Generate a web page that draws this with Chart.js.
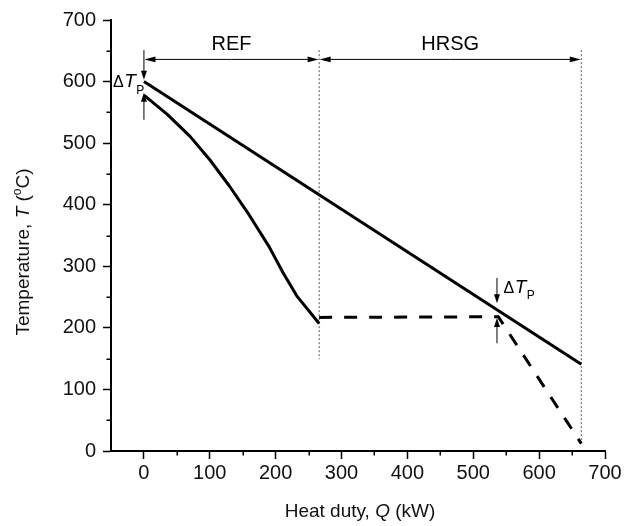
<!DOCTYPE html>
<html>
<head>
<meta charset="utf-8">
<title>T-Q diagram</title>
<script src="https://cdn.jsdelivr.net/npm/chart.js@4.4.1/dist/chart.umd.min.js"></script>
<style>
  html, body { margin: 0; padding: 0; background: #fff; }
  canvas { display: block; }
</style>
</head>
<body>
<canvas id="tq" width="632" height="526"></canvas>
<script>
const FONT = '"Liberation Sans", Arial, Helvetica, sans-serif';

// hot flue gas, straight through REF and HRSG
const hotQ = [0, 664];
const hotT = [600, 141];
// cold side inside the reformer
const refQ = [0, 35, 70, 100, 130, 160, 190, 211, 232, 266];
const refT = [578, 547, 511, 473, 430, 383, 332, 290, 252, 207];
// cold side in the HRSG (dashed)
const hrsgQ = [266, 538, 664];
const hrsgT = [217, 218, 12];

// section spans along the top
const sectionQ = [0, 266, 664];
const sectionNames = ["REF", "HRSG"];
const spanArrowT = 636;
const sectionLabelT = 660;
const dividerTopT = 651;
const dividerBottomT = [149, 14]; // for sectionQ[1], sectionQ[2]

// pinch markers: [tail, tip] in degC for the down and up arrows
const pinchQ = [0, 536];
const pinchDown = [[651, 603], [281, 240]];
const pinchUp = [[538, 582], [175, 216]];
const pinchLabelQ = [-47, 546];
const pinchLabelT = [591, 257];

const xTickValues = [0, 50, 100, 150, 200, 250, 300, 350, 400, 450, 500, 550, 600, 650, 700];
const yTickValues = [0, 50, 100, 150, 200, 250, 300, 350, 400, 450, 500, 550, 600, 650, 700];

function pts(xs, ys) {
  return xs.map((x, i) => ({ x, y: ys[i] }));
}

function arrow(ctx, x1, y1, x2, y2, len, half) {
  const a = Math.atan2(y2 - y1, x2 - x1);
  ctx.beginPath();
  ctx.moveTo(x1, y1);
  ctx.lineTo(x2 - Math.cos(a) * len * 0.6, y2 - Math.sin(a) * len * 0.6);
  ctx.stroke();
  ctx.beginPath();
  ctx.moveTo(x2, y2);
  ctx.lineTo(x2 - Math.cos(a) * len - Math.sin(a) * half, y2 - Math.sin(a) * len + Math.cos(a) * half);
  ctx.lineTo(x2 - Math.cos(a) * len + Math.sin(a) * half, y2 - Math.sin(a) * len - Math.cos(a) * half);
  ctx.closePath();
  ctx.fill();
}

// draws runs of text with italic / sub / sup parts, centred on (cx, cy)
function richText(ctx, parts, cx, cy) {
  let w = 0;
  parts.forEach((p) => {
    ctx.font = `${p.italic ? "italic " : ""}${p.size}px ${FONT}`;
    p.w = ctx.measureText(p.t).width;
    w += p.w;
  });
  let x = cx - w / 2;
  ctx.textAlign = "left";
  ctx.textBaseline = "middle";
  parts.forEach((p) => {
    ctx.font = `${p.italic ? "italic " : ""}${p.size}px ${FONT}`;
    ctx.fillText(p.t, x, cy + (p.dy || 0));
    x += p.w;
  });
}

function deltaTp(ctx, x, y) {
  ctx.textAlign = "left";
  ctx.textBaseline = "alphabetic";
  ctx.font = `16px ${FONT}`;
  ctx.fillText("\u0394", x, y);
  x += ctx.measureText("\u0394").width + 0.5;
  ctx.font = `italic 19px ${FONT}`;
  ctx.fillText("T", x, y);
  x += ctx.measureText("T").width + 0.5;
  ctx.font = `12px ${FONT}`;
  ctx.fillText("P", x, y + 6.5);
}

const annotations = {
  id: "annotations",
  afterDatasetsDraw(chart) {
    const { ctx } = chart;
    const xs = chart.scales.x;
    const ys = chart.scales.y;
    ctx.save();
    ctx.fillStyle = "#000";
    ctx.strokeStyle = "#000";
    ctx.lineWidth = 1;

    // double arrows spanning each section
    const ay = ys.getPixelForValue(spanArrowT);
    for (let i = 0; i < sectionNames.length; i++) {
      const xa = xs.getPixelForValue(sectionQ[i]);
      const xb = xs.getPixelForValue(sectionQ[i + 1]);
      const xm = (xa + xb) / 2;
      arrow(ctx, xm, ay, xa + 0.5, ay, 11, 2.8);
      arrow(ctx, xm, ay, xb - 0.5, ay, 11, 2.8);
      ctx.font = `20px ${FONT}`;
      ctx.textAlign = "center";
      ctx.textBaseline = "middle";
      ctx.fillText(sectionNames[i], xm, ys.getPixelForValue(sectionLabelT));
    }

    // pinch-point arrows and labels
    for (let i = 0; i < pinchQ.length; i++) {
      const px = xs.getPixelForValue(pinchQ[i]);
      arrow(ctx, px, ys.getPixelForValue(pinchDown[i][0]), px, ys.getPixelForValue(pinchDown[i][1]), 9, 3);
      arrow(ctx, px, ys.getPixelForValue(pinchUp[i][0]), px, ys.getPixelForValue(pinchUp[i][1]), 9, 3);
      deltaTp(ctx, xs.getPixelForValue(pinchLabelQ[i]), ys.getPixelForValue(pinchLabelT[i]));
    }

    // minor tick marks
    ctx.lineWidth = 1.5;
    const bottom = chart.chartArea.bottom;
    const left = chart.chartArea.left;
    xTickValues.filter((v) => v % 100 !== 0).forEach((v) => {
      const x = Math.round(xs.getPixelForValue(v)) + 0.25;
      ctx.beginPath();
      ctx.moveTo(x, bottom);
      ctx.lineTo(x, bottom + 4.5);
      ctx.stroke();
    });
    yTickValues.filter((v) => v % 100 !== 0).forEach((v) => {
      const y = Math.round(ys.getPixelForValue(v)) + 0.25;
      ctx.beginPath();
      ctx.moveTo(left, y);
      ctx.lineTo(left - 4.5, y);
      ctx.stroke();
    });

    // axis titles
    ctx.fillStyle = "#111";
    richText(ctx, [
      { t: "Heat duty, ", size: 19 },
      { t: "Q", size: 19, italic: true },
      { t: " (kW)", size: 19 },
    ], 360, 512);
    ctx.save();
    ctx.translate(24, 252);
    ctx.rotate(-Math.PI / 2);
    richText(ctx, [
      { t: "Temperature, ", size: 19 },
      { t: "T", size: 19, italic: true },
      { t: " (", size: 19 },
      { t: "o", size: 12, dy: -6 },
      { t: "C)", size: 19 },
    ], 0, 0);
    ctx.restore();

    ctx.restore();
  },
};

const thin = { borderColor: "#555", borderWidth: 1, borderDash: [2, 2], pointRadius: 0, showLine: true, fill: false };

new Chart(document.getElementById("tq"), {
  type: "scatter",
  data: {
    datasets: [
      {
        label: "hot",
        data: pts(hotQ, hotT),
        borderColor: "#000", borderWidth: 3, pointRadius: 0, showLine: true,
      },
      {
        label: "REF cold",
        data: pts(refQ, refT),
        borderColor: "#000", borderWidth: 3, pointRadius: 0, showLine: true,
        borderJoinStyle: "round",
      },
      {
        label: "HRSG cold",
        data: pts(hrsgQ, hrsgT),
        borderColor: "#000", borderWidth: 3, pointRadius: 0, showLine: true,
        borderDash: [13, 12],
      },
      Object.assign({ label: "REF/HRSG", data: pts([sectionQ[1], sectionQ[1]], [dividerTopT, dividerBottomT[0]]) }, thin),
      Object.assign({ label: "HRSG end", data: pts([sectionQ[2], sectionQ[2]], [dividerTopT, dividerBottomT[1]]) }, thin),
    ],
  },
  options: {
    responsive: false,
    animation: false,
    events: [],
    layout: { padding: { left: 0, right: 27, top: 20, bottom: 0 } },
    plugins: { legend: { display: false }, tooltip: { enabled: false } },
    scales: {
      x: {
        type: "linear",
        min: -50,
        max: 700,
        afterBuildTicks: (s) => { s.ticks = xTickValues.map((v) => ({ value: v })); },
        afterFit: (s) => { s.height = 75; },
        ticks: {
          color: "#111",
          font: { family: FONT, size: 20 },
          padding: 2,
          maxRotation: 0,
          autoSkip: false,
          callback: (v) => (v % 100 === 0 ? v : ""),
        },
        grid: {
          drawOnChartArea: false,
          drawTicks: true,
          tickLength: 8,
          tickWidth: 1.5,
          tickColor: (c) => (c.tick && c.tick.value % 100 === 0 ? "#000" : "rgba(0,0,0,0)"),
        },
        border: { display: true, color: "#000", width: 2 },
      },
      y: {
        type: "linear",
        min: 0,
        max: 700,
        afterBuildTicks: (s) => { s.ticks = yTickValues.map((v) => ({ value: v })); },
        afterFit: (s) => { s.width = 111; },
        ticks: {
          color: "#111",
          font: { family: FONT, size: 20 },
          padding: 7,
          autoSkip: false,
          callback: (v) => (v % 100 === 0 ? v : ""),
        },
        grid: {
          drawOnChartArea: false,
          drawTicks: true,
          tickLength: 8,
          tickWidth: 1.5,
          tickColor: (c) => (c.tick && c.tick.value % 100 === 0 ? "#000" : "rgba(0,0,0,0)"),
        },
        border: { display: true, color: "#000", width: 2 },
      },
    },
  },
  plugins: [annotations],
});
</script>
</body>
</html>
